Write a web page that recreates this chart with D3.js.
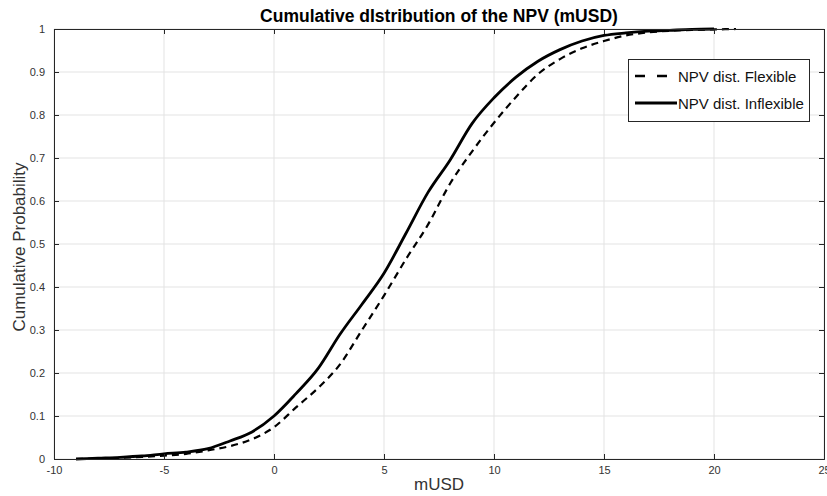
<!DOCTYPE html>
<html><head><meta charset="utf-8">
<script src="https://cdn.jsdelivr.net/npm/d3@7"></script>
<style>body{margin:0;background:#fff}svg{display:block}text{font-family:"Liberation Sans",Arial,sans-serif}</style>
</head><body><svg id="c" width="827" height="496"></svg>
<script>
const xTicks = [-10,-5,0,5,10,15,20,25];
const yTicks = [0,0.1,0.2,0.3,0.4,0.5,0.6,0.7,0.8,0.9,1];
const inflexX = [-9,-8,-7,-6,-5,-4,-3,-2,-1,0,1,2,3,4,5,6,7,8,9,10,11,12,13,14,15,16,17,18,19,20];
const inflexY = [0,0.002,0.004,0.007,0.012,0.016,0.024,0.042,0.063,0.100,0.152,0.21,0.29,0.36,0.432,0.525,0.62,0.695,0.78,0.84,0.888,0.925,0.952,0.972,0.985,0.991,0.995,0.997,0.999,1.0];
const flexX = [-9,-8,-7,-6,-5,-4,-3,-2,-1,0,1,2,3,4,5,6,7,8,9,10,11,12,13,14,15,16,17,18,19,20,21];
const flexY = [0,0.001,0.003,0.005,0.008,0.012,0.02,0.03,0.046,0.074,0.12,0.165,0.22,0.30,0.38,0.465,0.545,0.64,0.715,0.782,0.842,0.895,0.93,0.955,0.972,0.985,0.992,0.996,0.998,0.999,1.0];
const seriesNames = ["NPV dist. Flexible","NPV dist. Inflexible"];

const svg = d3.select("#c");
const L=54,R=824,T=29,B=459;
const x = d3.scaleLinear().domain([-10,25]).range([L,R]);
const y = d3.scaleLinear().domain([0,1]).range([B,T]);
const ax="#262626";

// grid
svg.append("g").selectAll("line").data(xTicks).join("line")
  .attr("x1",d=>x(d)).attr("x2",d=>x(d)).attr("y1",T).attr("y2",B)
  .attr("stroke","#e3e3e3").attr("stroke-width",1);
svg.append("g").selectAll("line").data(yTicks).join("line")
  .attr("y1",d=>y(d)).attr("y2",d=>y(d)).attr("x1",L).attr("x2",R)
  .attr("stroke","#e3e3e3").attr("stroke-width",1);

// curves
const line = d3.line().curve(d3.curveMonotoneX);
svg.append("path").attr("d",line(flexX.map((v,i)=>[x(v),y(flexY[i])])))
  .attr("fill","none").attr("stroke","#000").attr("stroke-width",2.2).attr("stroke-dasharray","7,5");
svg.append("path").attr("d",line(inflexX.map((v,i)=>[x(v),y(inflexY[i])])))
  .attr("fill","none").attr("stroke","#000").attr("stroke-width",2.8);

// axes
const xb = d3.axisBottom(x).tickValues(xTicks).tickSize(-5).tickPadding(7).tickFormat(d=>String(d));
const xt = d3.axisTop(x).tickValues(xTicks).tickSize(-5).tickFormat("");
const yl = d3.axisLeft(y).tickValues(yTicks).tickSize(-5).tickPadding(9).tickFormat(d=>String(d));
const yr = d3.axisRight(y).tickValues(yTicks).tickSize(-5).tickFormat("");
function style(g){g.select(".domain").attr("stroke",ax);g.selectAll(".tick line").attr("stroke",ax);
  g.selectAll("text").attr("fill","#333").style("font-size","11px").style("font-family","Liberation Sans, Arial, sans-serif");}
svg.append("g").attr("transform",`translate(0,${B})`).call(xb).call(style);
svg.append("g").attr("transform",`translate(0,${T})`).call(xt).call(style);
svg.append("g").attr("transform",`translate(${L},0)`).call(yl).call(style);
svg.append("g").attr("transform",`translate(${R},0)`).call(yr).call(style);

// labels
svg.append("text").attr("x",(L+R)/2).attr("y",22).attr("text-anchor","middle")
  .style("font-size","17.5px").style("font-weight","bold").attr("fill","#000")
  .text("Cumulative dIstribution of the NPV (mUSD)");
svg.append("text").attr("x",(L+R)/2).attr("y",490).attr("text-anchor","middle")
  .style("font-size","17px").attr("fill","#333").text("mUSD");
svg.append("text").attr("transform",`translate(25,247) rotate(-90)`).attr("text-anchor","middle")
  .style("font-size","17px").attr("fill","#333").text("Cumulative Probability");

// legend
const lg = svg.append("g");
lg.append("rect").attr("x",628.5).attr("y",59.5).attr("width",181).attr("height",62)
  .attr("fill","#fff").attr("stroke",ax).attr("stroke-width",1);
const rows=[{n:seriesNames[0],dash:"10,12",w:2.4,yy:76,x2:667},{n:seriesNames[1],dash:null,w:2.8,yy:103,x2:677}];
rows.forEach(r=>{
  lg.append("line").attr("x1",635).attr("x2",r.x2).attr("y1",r.yy).attr("y2",r.yy)
    .attr("stroke","#000").attr("stroke-width",r.w).attr("stroke-dasharray",r.dash);
  lg.append("text").attr("x",678).attr("y",r.yy+5.5).style("font-size","15px").attr("fill","#111").text(r.n);
});
</script></body></html>
